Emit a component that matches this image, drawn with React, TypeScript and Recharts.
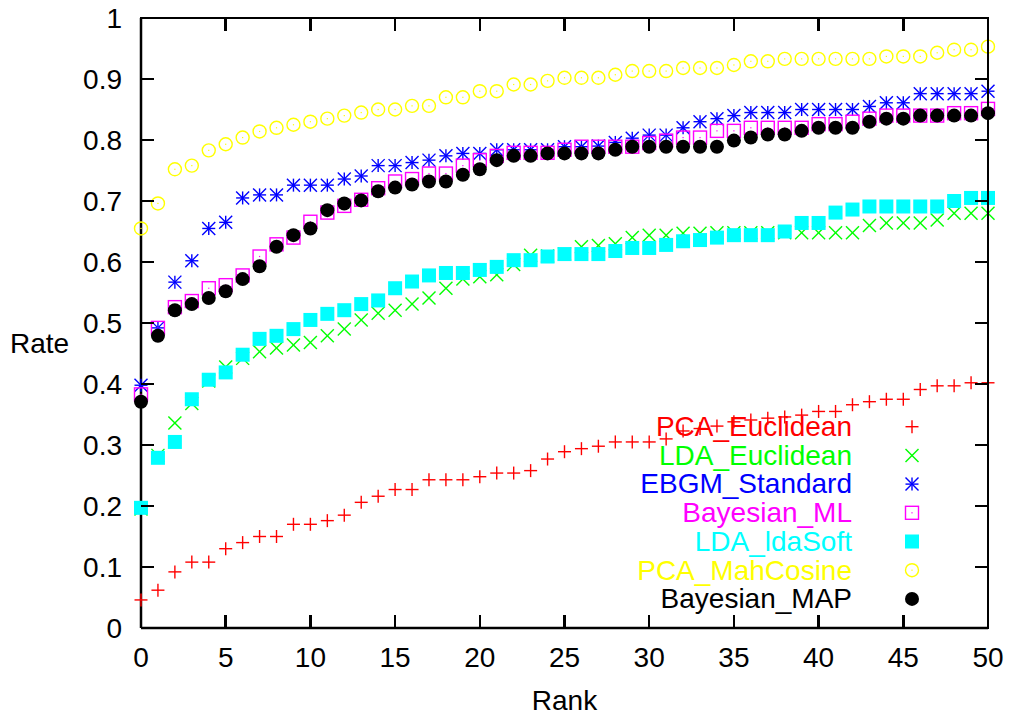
import React from "react";
import { Scatter, ScatterChart, XAxis, YAxis } from "recharts";

const rank = [
  0, 1, 2, 3, 4, 5, 6, 7, 8, 9, 10, 11, 12, 13, 14, 15, 16, 17, 18, 19, 20, 21, 22, 23, 24, 25,
  26, 27, 28, 29, 30, 31, 32, 33, 34, 35, 36, 37, 38, 39, 40, 41, 42, 43, 44, 45, 46, 47, 48, 49, 50,
];

const pcaEuclidean = [
  0.046, 0.062, 0.092, 0.108, 0.108, 0.13, 0.14, 0.15, 0.15, 0.17, 0.17, 0.176, 0.185, 0.206, 0.216,
  0.227, 0.227, 0.243, 0.243, 0.243, 0.248, 0.254, 0.254, 0.258, 0.277, 0.289, 0.294, 0.298, 0.305,
  0.305, 0.305, 0.31, 0.323, 0.327, 0.331, 0.338, 0.341, 0.344, 0.346, 0.349, 0.355, 0.355, 0.366,
  0.371, 0.375, 0.375, 0.391, 0.397, 0.397, 0.402, 0.402,
];
const ldaEuclidean = [
  0.195, 0.283, 0.336, 0.368, 0.405, 0.428, 0.442, 0.453, 0.459, 0.464, 0.468, 0.479, 0.49, 0.505,
  0.516, 0.521, 0.531, 0.541, 0.557, 0.572, 0.576, 0.579, 0.596, 0.611, 0.61, 0.613, 0.625, 0.627,
  0.63, 0.64, 0.644, 0.644, 0.647, 0.647, 0.648, 0.648, 0.648, 0.648, 0.648, 0.648, 0.648, 0.648,
  0.648, 0.66, 0.664, 0.664, 0.664, 0.669, 0.68, 0.68, 0.68,
];
const ebgmStandard = [
  0.398, 0.492, 0.567, 0.602, 0.655, 0.665, 0.705, 0.71, 0.71, 0.726, 0.726, 0.726, 0.736, 0.741,
  0.758, 0.758, 0.763, 0.767, 0.774, 0.778, 0.778, 0.784, 0.784, 0.784, 0.784, 0.789, 0.789, 0.79,
  0.796, 0.803, 0.808, 0.808, 0.82, 0.83, 0.835, 0.84, 0.845, 0.845, 0.845, 0.85, 0.85, 0.85, 0.85,
  0.855, 0.861, 0.861, 0.876, 0.876, 0.876, 0.876, 0.88,
];
const bayesianML = [
  0.383, 0.492, 0.526, 0.536, 0.557, 0.562, 0.578, 0.609, 0.629, 0.64, 0.666, 0.681, 0.692, 0.702,
  0.721, 0.732, 0.736, 0.745, 0.745, 0.758, 0.767, 0.774, 0.779, 0.779, 0.779, 0.784, 0.789, 0.789,
  0.789, 0.789, 0.795, 0.799, 0.804, 0.804, 0.815, 0.815, 0.82, 0.82, 0.82, 0.82, 0.826, 0.826, 0.83,
  0.835, 0.84, 0.84, 0.84, 0.84, 0.844, 0.844, 0.851,
];
const ldaSoft = [
  0.197, 0.279, 0.305, 0.375, 0.407, 0.419, 0.448, 0.474, 0.479, 0.49, 0.505, 0.515, 0.521, 0.531,
  0.537, 0.557, 0.568, 0.578, 0.582, 0.582, 0.587, 0.592, 0.603, 0.603, 0.609, 0.613, 0.613, 0.613,
  0.618, 0.623, 0.623, 0.628, 0.634, 0.636, 0.64, 0.644, 0.644, 0.644, 0.65, 0.664, 0.664, 0.681,
  0.686, 0.691, 0.691, 0.691, 0.691, 0.691, 0.7, 0.705, 0.705,
];
const pcaMahCosine = [
  0.655, 0.696, 0.752, 0.758, 0.783, 0.793, 0.804, 0.814, 0.82, 0.825, 0.83, 0.835, 0.84, 0.845,
  0.85, 0.85, 0.856, 0.856, 0.87, 0.87, 0.88, 0.88, 0.891, 0.891, 0.897, 0.902, 0.902, 0.902, 0.907,
  0.913, 0.913, 0.913, 0.918, 0.918, 0.918, 0.923, 0.929, 0.929, 0.933, 0.933, 0.933, 0.933, 0.933,
  0.933, 0.937, 0.937, 0.937, 0.943, 0.948, 0.948, 0.953,
];
const bayesianMAP = [
  0.371, 0.479, 0.521, 0.531, 0.541, 0.552, 0.572, 0.593, 0.625, 0.644, 0.655, 0.685, 0.696, 0.701,
  0.716, 0.722, 0.727, 0.732, 0.732, 0.743, 0.752, 0.767, 0.774, 0.774, 0.778, 0.778, 0.778, 0.778,
  0.784, 0.789, 0.789, 0.789, 0.789, 0.789, 0.789, 0.799, 0.804, 0.809, 0.809, 0.815, 0.82, 0.82,
  0.82, 0.83, 0.835, 0.835, 0.84, 0.84, 0.84, 0.84, 0.844,
];

const xTicks = [0, 5, 10, 15, 20, 25, 30, 35, 40, 45, 50];
const yTicks = [0, 0.1, 0.2, 0.3, 0.4, 0.5, 0.6, 0.7, 0.8, 0.9, 1];

const series = [
  { name: "PCA_Euclidean", values: pcaEuclidean, color: "#ff0000", marker: "plus" },
  { name: "LDA_Euclidean", values: ldaEuclidean, color: "#00ff00", marker: "cross" },
  { name: "EBGM_Standard", values: ebgmStandard, color: "#0000ff", marker: "star" },
  { name: "Bayesian_ML", values: bayesianML, color: "#ff00ff", marker: "openSquare" },
  { name: "LDA_ldaSoft", values: ldaSoft, color: "#00ffff", marker: "filledSquare" },
  { name: "PCA_MahCosine", values: pcaMahCosine, color: "#ffff00", marker: "openCircle" },
  { name: "Bayesian_MAP", values: bayesianMAP, color: "#000000", marker: "filledCircle" },
];

const FONT = "'Liberation Sans', Arial, sans-serif";

const CHART_W = 1013;
const CHART_H = 719;
const MARGIN = { top: 18, right: 25, bottom: 0, left: 0 };
const Y_AXIS_W = 141;
const X_AXIS_H = 91;
const TICK_LEN = 13;
const LW = 2.5;
// plot box, same numbers Recharts uses for its offset
const boxX0 = 141;
const boxY0 = 18;
const boxW = 847;
const boxH = 610;
const boxX1 = boxX0 + boxW;
const boxY1 = boxY0 + boxH;

function Marker({ cx, cy, kind, color }: { cx: number; cy: number; kind: string; color: string }) {
  if (cx == null || cy == null) return null;
  const s = 6.5;
  const w = 1.4;
  switch (kind) {
    case "plus":
      return (
        <g stroke={color} strokeWidth={w}>
          <line x1={cx - s} y1={cy} x2={cx + s} y2={cy} />
          <line x1={cx} y1={cy - s} x2={cx} y2={cy + s} />
        </g>
      );
    case "cross":
      return (
        <g stroke={color} strokeWidth={w}>
          <line x1={cx - s} y1={cy - s} x2={cx + s} y2={cy + s} />
          <line x1={cx - s} y1={cy + s} x2={cx + s} y2={cy - s} />
        </g>
      );
    case "star":
      return (
        <g stroke={color} strokeWidth={w}>
          <line x1={cx - s} y1={cy} x2={cx + s} y2={cy} />
          <line x1={cx} y1={cy - s} x2={cx} y2={cy + s} />
          <line x1={cx - s} y1={cy - s} x2={cx + s} y2={cy + s} />
          <line x1={cx - s} y1={cy + s} x2={cx + s} y2={cy - s} />
        </g>
      );
    case "openSquare":
      return (
        <g>
          <rect x={cx - s} y={cy - s} width={2 * s} height={2 * s} fill="none" stroke={color} strokeWidth={w} />
          <rect x={cx - 0.6} y={cy - 0.6} width={1.2} height={1.2} fill={color} />
        </g>
      );
    case "filledSquare":
      return <rect x={cx - 7} y={cy - 7} width={14} height={14} fill={color} />;
    case "openCircle":
      return (
        <g>
          <circle cx={cx} cy={cy} r={s} fill="none" stroke={color} strokeWidth={w} />
          <rect x={cx - 0.6} y={cy - 0.6} width={1.2} height={1.2} fill={color} />
        </g>
      );
    default:
      return <circle cx={cx} cy={cy} r={7} fill={color} />;
  }
}

const tickStyle = { fill: "#000", fontSize: 28, fontFamily: FONT };
const axisLineStyle = { stroke: "#000", strokeWidth: LW };

// plain html pieces for the gnuplot frame and the inward ticks
function Bar({ x, y, w, h }: { x: number; y: number; w: number; h: number }) {
  return <div style={{ position: "absolute", left: x, top: y, width: w, height: h, background: "black" }} />;
}

export default function App() {
  return (
    <div style={{ position: "relative", margin: -8, width: CHART_W, height: CHART_H, background: "#fff" }}>
      <ScatterChart width={CHART_W} height={CHART_H} margin={MARGIN}>
        <XAxis
          type="number"
          dataKey="rank"
          domain={[0, 50]}
          ticks={xTicks}
          interval={0}
          height={X_AXIS_H}
          axisLine={axisLineStyle}
          tickLine={false}
          tickSize={-TICK_LEN}
          tickMargin={32}
          tick={tickStyle}
          label={{
            content: (p: any) => (
              <text
                x={p.viewBox.x + p.viewBox.width / 2}
                y={p.viewBox.y + p.viewBox.height - 9}
                textAnchor="middle"
                fontSize={28}
                fontFamily={FONT}
                fill="#000"
              >
                Rank
              </text>
            ),
          }}
        />
        <YAxis
          type="number"
          dataKey="rate"
          domain={[0, 1]}
          ticks={yTicks}
          interval={0}
          width={Y_AXIS_W}
          axisLine={axisLineStyle}
          tickLine={false}
          tickSize={-TICK_LEN}
          tickMargin={32}
          tick={tickStyle}
          tickFormatter={(v: number) => (v === 0 ? "0" : v === 1 ? "1" : v.toFixed(1))}
          label={{
            content: (p: any) => (
              <text
                x={p.viewBox.x + 10}
                y={p.viewBox.y + p.viewBox.height / 2 + 30}
                fontSize={28}
                fontFamily={FONT}
                fill="#000"
              >
                Rate
              </text>
            ),
          }}
        />
        {series.map((s) => (
          <Scatter
            key={s.name}
            name={s.name}
            data={rank.map((r, i) => ({ rank: r, rate: s.values[i] }))}
            isAnimationActive={false}
            shape={(p: any) => <Marker cx={p.cx} cy={p.cy} kind={s.marker} color={s.color} />}
          />
        ))}
      </ScatterChart>
      <Bar x={boxX0 - LW / 2} y={boxY0 - LW / 2} w={boxW + LW} h={LW} />
      <Bar x={boxX1 - LW / 2} y={boxY0 - LW / 2} w={LW} h={boxH + LW} />
      {xTicks.map((t) => {
        const px = boxX0 + (t / 50) * boxW;
        return (
          <React.Fragment key={"x" + t}>
            <Bar x={px - LW / 2} y={boxY1 - TICK_LEN} w={LW} h={TICK_LEN} />
            <Bar x={px - LW / 2} y={boxY0} w={LW} h={TICK_LEN} />
          </React.Fragment>
        );
      })}
      {yTicks.map((t) => {
        const py = boxY1 - t * boxH;
        return (
          <React.Fragment key={"y" + t}>
            <Bar x={boxX0} y={py - LW / 2} w={TICK_LEN} h={LW} />
            <Bar x={boxX1 - TICK_LEN} y={py - LW / 2} w={TICK_LEN} h={LW} />
          </React.Fragment>
        );
      })}
      <svg
        width={CHART_W}
        height={CHART_H}
        style={{ position: "absolute", left: 0, top: 0, pointerEvents: "none" }}
      >
        {series.map((s, i) => (
          <g key={s.name}>
            <text
              x={852}
              y={436 + i * 28.7}
              textAnchor="end"
              fontSize={28}
              fontFamily={FONT}
              fill={s.color}
            >
              {s.name}
            </text>
            <Marker cx={912} cy={426.7 + i * 28.7} kind={s.marker} color={s.color} />
          </g>
        ))}
      </svg>
    </div>
  );
}
